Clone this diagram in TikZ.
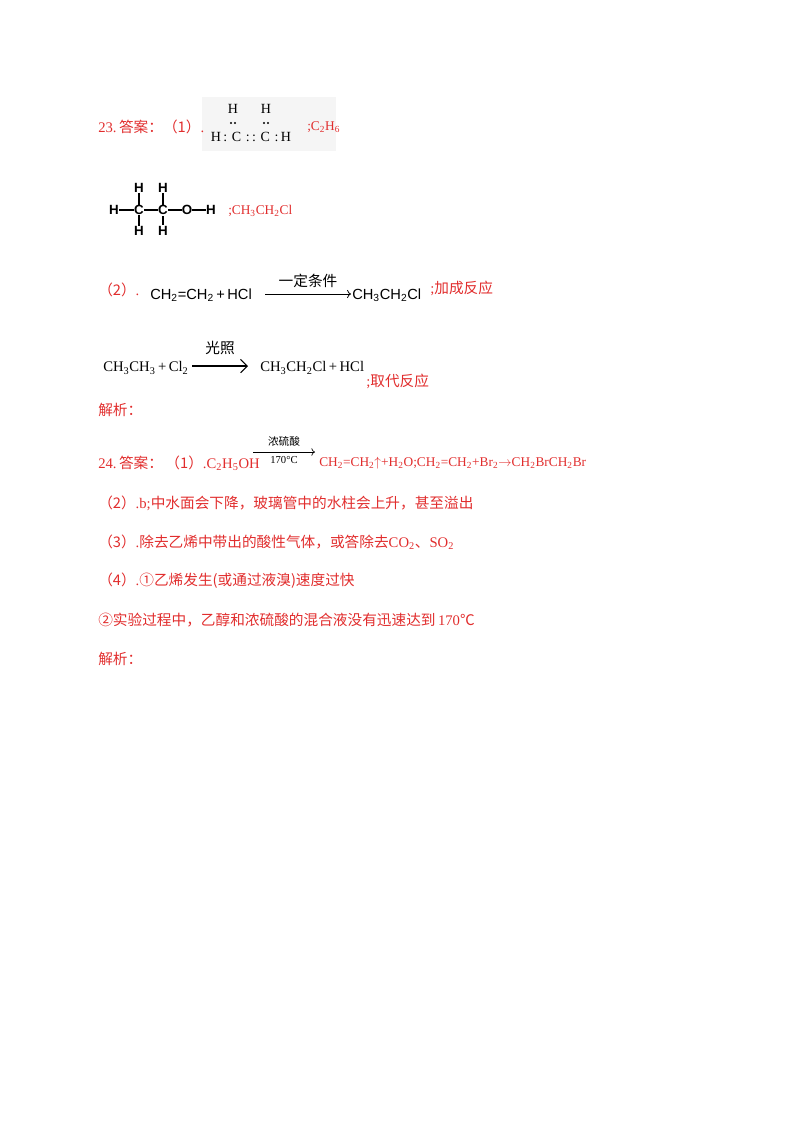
\documentclass[tikz,border=0pt]{standalone}
\usepackage{fontspec}
\usetikzlibrary{arrows.meta}
\setmainfont{Liberation Serif}
\newfontfamily\cjk{Noto Sans CJK SC}
\newfontfamily\sans{Liberation Sans}
\definecolor{ans}{RGB}{225,45,45}
\begin{document}
\begin{tikzpicture}[x=0.75pt,y=-0.75pt,
  red/.style={text=ans,anchor=west,inner sep=0,font=\fontsize{10}{12}\selectfont},
  redb/.style={text=ans,anchor=west,inner sep=0,font=\fontsize{11}{13}\selectfont},
  blk/.style={text=black,anchor=west,inner sep=0,font=\sans\fontsize{11}{13}\selectfont},
  ser/.style={text=black,anchor=west,inner sep=0,font=\fontsize{11}{13}\selectfont},
  atm/.style={inner sep=0,font=\sans\bfseries\fontsize{10}{12}\selectfont},
  lew/.style={inner sep=0,font=\fontsize{10.5}{12}\selectfont},
  dot/.style={circle,fill=black,inner sep=0,minimum size=1.6pt}]
\useasboundingbox (0,0) rectangle (800,1132);
% 23
\fill[black!4] (202,97) rectangle (336,151);
\node[redb] (q23) at (98,127) {23.\,{\cjk 答案：（1）}.};
\node[lew] (lh1) at (233,109) {H};
\node[lew] (lh2) at (266,109) {H};
\node[lew] (lrow) at (251,137) {H\,:\,\,C\,\,:\,:\,\,C\,\,:\,H};
\node[dot] (d1) at (231,123) {}; \node[dot] (d2) at (235,123) {};
\node[dot] (d3) at (264,123) {}; \node[dot] (d4) at (268,123) {};
\node[red] (c2h6) at (307,127) {;C\textsubscript{2}H\textsubscript{6}};
% ethanol
\node[atm] (h0) at (114,210) {H};
\node[atm] (c1) at (139,210) {C};
\node[atm] (c2) at (163,210) {C};
\node[atm] (o) at (187,210) {O};
\node[atm] (h4) at (211,210) {H};
\node[atm] (h1) at (139,188) {H};
\node[atm] (h2) at (163,188) {H};
\node[atm] (h3) at (139,231) {H};
\node[atm] (h5) at (163,231) {H};
\draw[line width=1.2pt,shorten <=1pt,shorten >=1pt] (h0)--(c1) (c1)--(c2) (c2)--(o) (o)--(h4) (h1)--(c1) (c1)--(h3) (h2)--(c2) (c2)--(h5);
\node[red] (r1) at (228,211) {;CH\textsubscript{3}CH\textsubscript{2}Cl};
% (2)
\node[redb] (q2) at (98,290) {{\cjk （2）}.};
\node[blk] (lhs1) at (150,295) {CH\textsubscript{2}=CH\textsubscript{2}\,+\,HCl};
\coordinate (a1s) at (265,294);
\coordinate (a1e) at (351,294);
\node[blk] (rhs1) at (352,295) {CH\textsubscript{3}CH\textsubscript{2}Cl};
\draw[->,line width=0.6pt] (a1s) -- (a1e) node[midway,above=1pt,font=\cjk\fontsize{11}{12}\selectfont]{一定条件};
\node[redb] (t1) at (430,288) {;{\cjk 加成反应}};
\node[ser] (lhs2) at (103,368) {CH\textsubscript{3}CH\textsubscript{3}\,+\,Cl\textsubscript{2}};
\coordinate (a2s) at (192,366);
\coordinate (a2e) at (248,366);
\draw[-{Straight Barb[length=5pt,width=10pt]},line width=0.8pt] (a2s) -- (a2e) node[midway,above=5pt,font=\cjk\fontsize{11}{12}\selectfont]{光照};
\node[ser] (rhs2) at (260,368) {CH\textsubscript{3}CH\textsubscript{2}Cl\,+\,HCl};
\node[redb] (t2) at (366,381) {;{\cjk 取代反应}};
\node[redb] (j1) at (98,410) {{\cjk 解析：}};
% 24
\node[redb] (q24) at (98,463) {24.\,{\cjk 答案：\,（1）}.C\textsubscript{2}H\textsubscript{5}OH};
\coordinate (a3s) at (253,452);
\coordinate (a3e) at (315,452);
\draw[->,line width=0.5pt] (a3s) -- (a3e)
  node[midway,above=1pt,font=\cjk\fontsize{8}{9}\selectfont]{浓硫酸}
  node[midway,below=0pt,font=\fontsize{8}{9}\selectfont]{170°C};
\node[red] (e1) at (319,463) {CH\textsubscript{2}=CH\textsubscript{2}$\uparrow$+H\textsubscript{2}O;CH\textsubscript{2}=CH\textsubscript{2}+Br\textsubscript{2}$\to$CH\textsubscript{2}BrCH\textsubscript{2}Br};
\node[redb] (l2) at (98,503) {{\cjk （2）}.b;{\cjk 中水面会下降，玻璃管中的水柱会上升，甚至溢出}};
\node[redb] (l3) at (98,542) {{\cjk （3）}.{\cjk 除去乙烯中带出的酸性气体，或答除去}CO\textsubscript{2}{\cjk 、}SO\textsubscript{2}};
\node[redb] (l4) at (98,581) {{\cjk （4）}.{\cjk ①乙烯发生(或通过液溴)速度过快}};
\node[redb] (l5) at (98,620) {{\cjk ②实验过程中，乙醇和浓硫酸的混合液没有迅速达到}\,170{\cjk ℃}};
\node[redb] (j2) at (98,659) {{\cjk 解析：}};
\end{tikzpicture}
\end{document}
